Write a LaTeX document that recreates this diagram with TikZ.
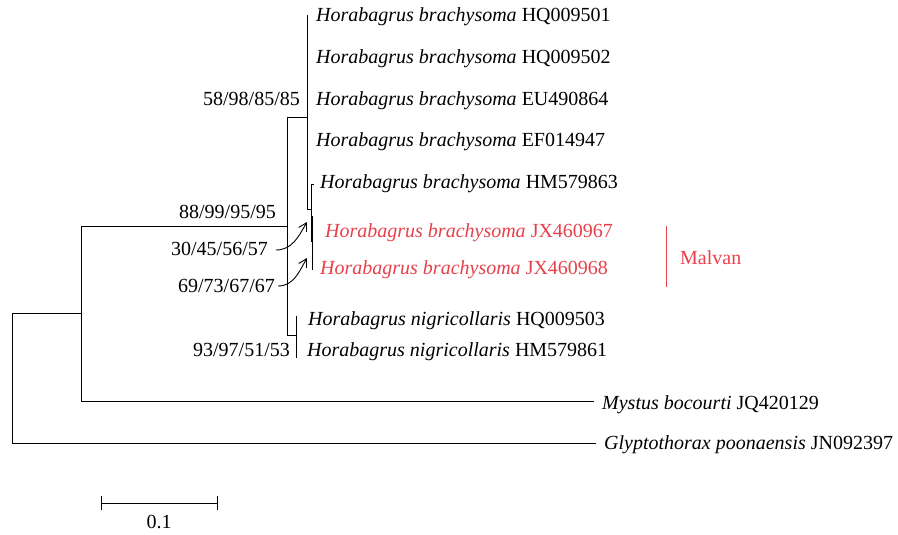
\documentclass[tikz,border=0pt]{standalone}
\usepackage{fontspec}
\setmainfont{Liberation Serif}
\usetikzlibrary{arrows.meta}
\definecolor{malvanred}{RGB}{232,64,74}
\begin{document}
\begin{tikzpicture}[x=1pt,y=-1pt,
  branch/.style={line width=0.9pt},
  tip/.style={anchor=west,inner sep=0pt,font=\fontsize{20}{24}\selectfont,text height=13.5pt,text depth=0pt},
  support/.style={anchor=east,inner sep=0pt,font=\fontsize{20}{24}\selectfont,text height=13.5pt,text depth=0pt},
  pointer/.style={line width=0.9pt,-{Straight Barb[length=8pt,width=9pt]}}]
\useasboundingbox (0,0) rectangle (898,535);

% internal nodes of the tree
\coordinate (root) at (12,313);
\coordinate (n1) at (81,226);
\coordinate (n2) at (287,226);
\coordinate (nA) at (307,117);
\coordinate (nB) at (311,209);
\coordinate (nD) at (296,335);

% tip labels
\node[tip] (t1) at (316,15) {\textit{Horabagrus brachysoma} HQ009501};
\node[tip] (t2) at (316,57) {\textit{Horabagrus brachysoma} HQ009502};
\node[tip] (t3) at (316,99) {\textit{Horabagrus brachysoma} EU490864};
\node[tip] (t4) at (316,140) {\textit{Horabagrus brachysoma} EF014947};
\node[tip] (t5) at (320,182) {\textit{Horabagrus brachysoma} HM579863};
\node[tip,text=malvanred] (t6) at (325,231) {\textit{Horabagrus brachysoma} JX460967};
\node[tip,text=malvanred] (t7) at (320,268) {\textit{Horabagrus brachysoma} JX460968};
\node[tip] (t8) at (308,319) {\textit{Horabagrus nigricollaris} HQ009503};
\node[tip] (t9) at (307,350) {\textit{Horabagrus nigricollaris} HM579861};
\node[tip] (t10) at (602,403) {\textit{Mystus bocourti} JQ420129};
\node[tip] (t11) at (604,443) {\textit{Glyptothorax poonaensis} JN092397};

% branches
\draw[branch] (12,443) -- (12,313) -- (n1 |- root);
\draw[branch] (12,443) -- (596,443);
\draw[branch] (n1) -- (81,401) -- (594,401);
\draw[branch] (n1) -- (n2);
\draw[branch] (287,117) -- (287,335) -- (nD);
\draw[branch] (287,117) -- (nA);
\draw[branch] (307,15) -- (307,209) -- (nB);
\draw[branch] (311,184) -- (311,242);
\draw[branch] (311,184) -- (314,184);
\draw[branch] (312,231) -- (312,270);
\draw[line width=2.2pt] (312,216) -- (312,242);
\draw[branch] (296,316) -- (296,358);

% bootstrap support values
\node[support] (s1) at (300,99) {58/98/85/85};
\node[support] (s2) at (276,212) {88/99/95/95};
\node[support] (s3) at (268,249) {30/45/56/57};
\node[support] (s4) at (275,286) {69/73/67/67};
\node[support] (s5) at (290,350) {93/97/51/53};

\coordinate (a1) at (307,222);
\coordinate (a2) at (307,258);
\draw[pointer] ([xshift=8pt,yshift=-1pt]s3.east) to[out=0,in=240] (a1);
\draw[pointer] ([xshift=3pt]s4.east) to[out=0,in=240] (a2);

% Malvan bracket
\draw[malvanred,line width=1pt] (666,226) -- (666,287);
\node[support,anchor=west,text=malvanred] (malvan) at (680,258) {Malvan};

% scale bar
\draw[line width=1pt] (101,503) -- (217,503);
\draw[line width=1pt] (101,496) -- (101,510);
\draw[line width=1pt] (217,496) -- (217,510);
\node[support,anchor=center] (scale) at (159,522) {0.1};
\end{tikzpicture}
\end{document}
